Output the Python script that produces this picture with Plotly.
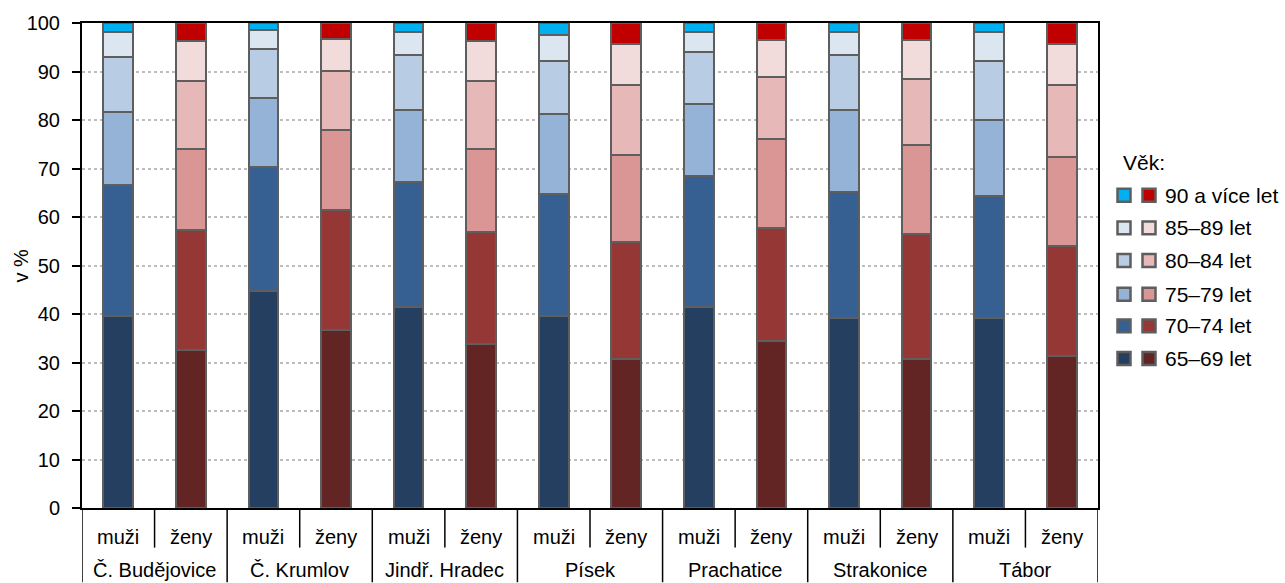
import plotly.graph_objects as go

# ---------------- data ----------------
districts = ["Č. Budějovice", "Č. Krumlov", "Jindř. Hradec", "Písek",
             "Prachatice", "Strakonice", "Tábor"]
sexes = ["muži", "ženy"]
age_groups = ["65–69 let", "70–74 let", "75–79 let", "80–84 let", "85–89 let", "90 a více let"]

muzi_65_69 = [39.5, 44.8, 41.5, 39.5, 41.5, 39.1, 39.1]
muzi_70_74 = [27.2, 25.6, 25.8, 25.3, 27.0, 26.1, 25.3]
muzi_75_79 = [14.9, 14.1, 14.8, 16.5, 14.8, 16.9, 15.6]
muzi_80_84 = [11.3, 10.1, 11.3, 10.8, 10.7, 11.3, 12.1]
muzi_85_89 = [5.3, 4.0, 4.8, 5.5, 4.1, 4.7, 6.0]
muzi_90 = [1.8, 1.4, 1.8, 2.4, 1.9, 1.9, 1.9]

zeny_65_69 = [32.5, 36.6, 33.8, 30.8, 34.5, 30.8, 31.3]
zeny_70_74 = [24.8, 24.8, 23.1, 24.1, 23.3, 25.7, 22.8]
zeny_75_79 = [16.7, 16.6, 17.1, 17.9, 18.3, 18.3, 18.3]
zeny_80_84 = [14.0, 12.1, 14.0, 14.4, 12.8, 13.7, 14.8]
zeny_85_89 = [8.2, 6.5, 8.2, 8.5, 7.6, 8.0, 8.5]
zeny_90 = [3.8, 3.4, 3.8, 4.3, 3.5, 3.5, 4.3]

y_ticks = [0, 10, 20, 30, 40, 50, 60, 70, 80, 90, 100]

muzi_series = [muzi_65_69, muzi_70_74, muzi_75_79, muzi_80_84, muzi_85_89, muzi_90]
zeny_series = [zeny_65_69, zeny_70_74, zeny_75_79, zeny_80_84, zeny_85_89, zeny_90]

# ---------------- styles ----------------
muzi_colors = ["#243F60", "#366092", "#95B3D7", "#B8CCE4", "#DCE6F1", "#00B0F0"]
zeny_colors = ["#632523", "#953735", "#DA9694", "#E6B8B7", "#F2DCDB", "#C00000"]
FONT = "Arial, Liberation Sans, sans-serif"
FS = 20
BORDER = "#5E5E5E"

W, H = 1285, 583
L, R, T, B = 82, 187, 18, 75
PW, PH = W - L - R, H - T - B

def px(xp):
    return (xp - L) / PW

def py(yp):
    return (H - B - yp) / PH

n_d = len(districts)
x_muzi = [2 * k + 0.5 for k in range(n_d)]
x_zeny = [2 * k + 1.5 for k in range(n_d)]

fig = go.Figure()
for i, ag in enumerate(age_groups):
    fig.add_trace(go.Bar(
        x=x_muzi, y=muzi_series[i], width=0.41, name="muži " + ag,
        marker=dict(color=muzi_colors[i], line=dict(color=BORDER, width=2)),
        showlegend=False, hovertemplate="muži " + ag + ": %{y}<extra></extra>"))
    fig.add_trace(go.Bar(
        x=x_zeny, y=zeny_series[i], width=0.41, name="ženy " + ag,
        marker=dict(color=zeny_colors[i], line=dict(color=BORDER, width=2)),
        showlegend=False, hovertemplate="ženy " + ag + ": %{y}<extra></extra>"))

shapes = []
annotations = []

# category separators and labels
n_cat = 2 * n_d
for k in range(n_cat + 1):
    major = (k % 2 == 0)
    shapes.append(dict(type="line", xref="x", yref="paper",
                       x0=k, x1=k, y0=0, y1=-(B if major else 40) / PH,
                       line=dict(color="black", width=1.5)))
for k in range(n_cat):
    annotations.append(dict(x=k + 0.5, y=0, xref="x", yref="paper",
                            text=sexes[k % 2], showarrow=False, yshift=-29,
                            yanchor="middle", font=dict(size=FS, color="black", family=FONT)))
for k, d in enumerate(districts):
    annotations.append(dict(x=2 * k + 1, y=0, xref="x", yref="paper",
                            text=d, showarrow=False, yshift=-B + 1, borderpad=0,
                            yanchor="bottom", font=dict(size=FS, color="black", family=FONT)))

# y axis title
annotations.append(dict(x=px(20), y=0.5, xref="paper", yref="paper", text="v %",
                        textangle=-90, showarrow=False, xanchor="center", yanchor="middle",
                        font=dict(size=FS, color="black", family=FONT)))

# custom legend
annotations.append(dict(x=px(1121), y=py(159), xref="paper", yref="paper", text="Věk:",
                        showarrow=False, xanchor="left", yanchor="middle",
                        font=dict(size=21, color="black", family=FONT)))
row_y = [357, 324, 292, 258, 225, 192]  # 65-69 ... 90+
sq = 13
for i, ag in enumerate(age_groups):
    yc = row_y[i]
    for xc, col in ((1124, muzi_colors[i]), (1149, zeny_colors[i])):
        shapes.append(dict(type="rect", xref="paper", yref="paper",
                           x0=px(xc - sq / 2), x1=px(xc + sq / 2),
                           y0=py(yc + sq / 2), y1=py(yc - sq / 2),
                           fillcolor=col, line=dict(color=BORDER, width=2.5)))
    annotations.append(dict(x=px(1163), y=py(yc), xref="paper", yref="paper", text=ag,
                            showarrow=False, xanchor="left", yanchor="middle",
                            font=dict(size=21, color="black", family=FONT)))

fig.update_layout(
    width=W, height=H,
    margin=dict(l=L, r=R, t=T, b=B, pad=0),
    barmode="stack",
    plot_bgcolor="white", paper_bgcolor="white",
    font=dict(family=FONT, size=FS, color="black"),
    shapes=shapes, annotations=annotations,
    showlegend=False,
    xaxis=dict(range=[0, n_cat], showticklabels=False, ticks="", showgrid=False,
               zeroline=False, showline=True, linecolor="black", linewidth=2, mirror=True,
               fixedrange=True),
    yaxis=dict(range=[0, 100], tickvals=y_ticks, ticks="outside", ticklen=8, tickwidth=2,
               tickcolor="black", showline=True, linecolor="black", linewidth=2, mirror=True,
               showgrid=True, gridcolor="#BDBDBD", griddash="dot", gridwidth=1.5,
               zeroline=False, tickfont=dict(size=FS, family=FONT, color="black"),
               ticklabelstandoff=8, fixedrange=True),
)

fig.write_html(
    "out.html",
    config={"displayModeBar": False},
    post_script="document.body.style.margin='0';document.body.style.padding='0';"
                "document.body.style.overflow='hidden';",
)
